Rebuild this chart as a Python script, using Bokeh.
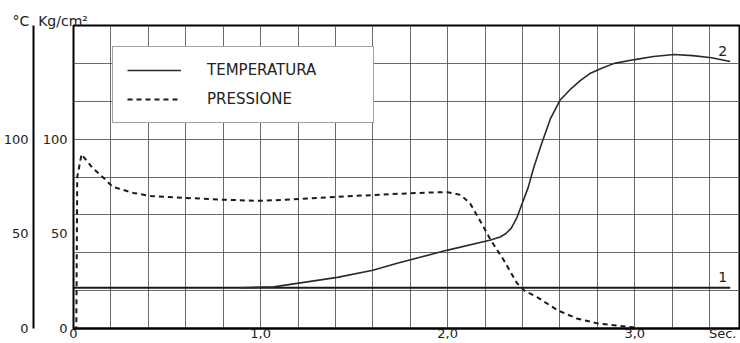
from bokeh.plotting import figure
from bokeh.models import Range1d, LinearAxis, FixedTicker, Legend, LegendItem, Label
from bokeh.embed import file_html
from bokeh.resources import INLINE

# ---- data ----
# Pressure (kg/cm2), dashed
t_pres = [0.0, 0.015, 0.02, 0.043, 0.10, 0.16, 0.21, 0.32, 0.41, 0.59, 0.80, 1.00,
          1.21, 1.41, 1.70, 1.90, 2.00, 2.07, 2.12, 2.18, 2.23, 2.30, 2.37, 2.41,
          2.48, 2.59, 2.69, 2.80, 2.91, 3.00]
v_pres = [0, 0, 80, 92, 85, 79.6, 74.8, 71.6, 70, 69, 68, 67.4,
          68.4, 69.5, 71, 71.8, 72, 70.5, 66, 55.7, 46.7, 36, 24, 20,
          16.4, 9.5, 5.3, 2.7, 1.5, 0.5]
# Temperature curve 1 (flat)
t_temp1 = [0.0, 3.51]
v_temp1 = [21.5, 21.5]
# Temperature curve 2
t_temp2 = [0.89, 1.07, 1.41, 1.60, 1.73, 2.00, 2.23, 2.28, 2.31, 2.34, 2.37, 2.39,
           2.43, 2.46, 2.50, 2.55, 2.60, 2.66, 2.71, 2.76, 2.82, 2.89, 3.00, 3.10,
           3.21, 3.31, 3.41, 3.51]
v_temp2 = [21.5, 22, 27, 30.8, 34.5, 41.4, 46.7, 48.3, 50, 53, 58.6, 63.9,
           74.4, 85, 97, 111, 120.5, 126.7, 131, 134.6, 137.3, 140, 142, 143.6,
           144.7, 144.1, 143, 141]

x_ticks = [0, 1, 2, 3, 3.47]
x_tick_labels = ["0", "1,0", "2,0", "3,0", "Sec."]
y_ticks = [0, 50, 100]
y_tick_labels = ["0", "50", "100"]
grid_x = [round(0.2 * i, 2) for i in range(1, 18)]
grid_y = [20 * i for i in range(1, 8)]

FONT = "DejaVu Sans"
INK = "#222222"

p = figure(width=740, height=343, output_backend="svg", toolbar_location=None,
           x_range=Range1d(0, 3.565), y_range=Range1d(0, 160),
           min_border_left=73, min_border_top=25, min_border_bottom=15,
           min_border_right=0, background_fill_color="white",
           border_fill_color="white")

p.outline_line_color = "black"
p.outline_line_width = 2

# axis titles (°C and Kg/cm²) as the plot title, left of the frame
p.title.text = "°C\u00a0\u00a0Kg/cm²"
p.title.align = "left"
p.title.offset = -61
p.title.standoff = -6
p.title.text_font = FONT
p.title.text_font_size = "14px"
p.title.text_font_style = "normal"
p.title.text_color = INK

# grid
p.xgrid.ticker = FixedTicker(ticks=grid_x)
p.ygrid.ticker = FixedTicker(ticks=grid_y)
for g in (p.xgrid[0], p.ygrid[0]):
    g.grid_line_color = "#505050"
    g.grid_line_width = 1
    g.grid_line_alpha = 0.85

# x axis
xa = p.xaxis[0]
xa.ticker = FixedTicker(ticks=x_ticks)
xa.major_label_overrides = {k: v for k, v in zip(x_ticks, x_tick_labels)}
xa.axis_line_color = "black"
xa.axis_line_width = 2
xa.major_tick_line_color = None
xa.minor_tick_line_color = None
xa.major_tick_out = 0
xa.major_tick_in = 0
xa.major_label_standoff = -3
xa.major_label_text_font = FONT
xa.major_label_text_font_size = "13px"
xa.major_label_text_color = INK

# inner left axis (kg/cm2)
ya = p.yaxis[0]
ya.ticker = FixedTicker(ticks=y_ticks)
ya.major_label_overrides = {k: v for k, v in zip(y_ticks, y_tick_labels)}
ya.axis_line_color = None
ya.major_tick_line_color = None
ya.minor_tick_line_color = None
ya.major_tick_out = 0
ya.major_tick_in = 0
ya.major_label_standoff = 6
ya.major_label_text_font = FONT
ya.major_label_text_font_size = "13px"
ya.major_label_text_color = INK
ya.axis_label = " "
ya.axis_label_text_font_size = "2px"
ya.axis_label_standoff = 1

# outer left axis (deg C)
ya2 = LinearAxis(ticker=FixedTicker(ticks=y_ticks),
                 major_label_overrides={k: v for k, v in zip(y_ticks, y_tick_labels)},
                 axis_line_color="black", axis_line_width=2,
                 major_tick_line_color=None, minor_tick_line_color=None,
                 major_tick_out=0, major_tick_in=0, major_label_standoff=5,
                 major_label_text_font=FONT, major_label_text_font_size="13px",
                 major_label_text_color=INK)
p.add_layout(ya2, "left")

# curves
r_t1 = p.line(t_temp1, v_temp1, line_color="#1a1a1a", line_width=2)
r_t2 = p.line(t_temp2, v_temp2, line_color="#2a2a2a", line_width=1.6)
r_p = p.line(t_pres, v_pres, line_color="#1a1a1a", line_width=2, line_dash="5 4")

legend = Legend(items=[LegendItem(label="TEMPERATURA", renderers=[r_t2]),
                       LegendItem(label="PRESSIONE", renderers=[r_p])],
                location=(39, 205), padding=14, spacing=11, margin=0,
                glyph_width=54, glyph_height=18, label_height=18,
                label_width=152, label_standoff=26,
                border_line_color="#444444", border_line_width=1,
                background_fill_color="white", background_fill_alpha=1,
                label_text_font=FONT, label_text_font_size="15px",
                label_text_color=INK)
p.add_layout(legend)

# curve numbers
p.add_layout(Label(x=t_temp1[-1] - 0.04, y=v_temp1[-1] + 5.5, text="1",
                   text_align="center", text_baseline="middle",
                   text_font=FONT, text_font_size="14px", text_color=INK))
p.add_layout(Label(x=t_temp2[-1] - 0.04, y=v_temp2[-1] + 5.5, text="2",
                   text_align="center", text_baseline="middle",
                   text_font=FONT, text_font_size="14px", text_color=INK))

open("out.html", "w").write(file_html(p, INLINE))
